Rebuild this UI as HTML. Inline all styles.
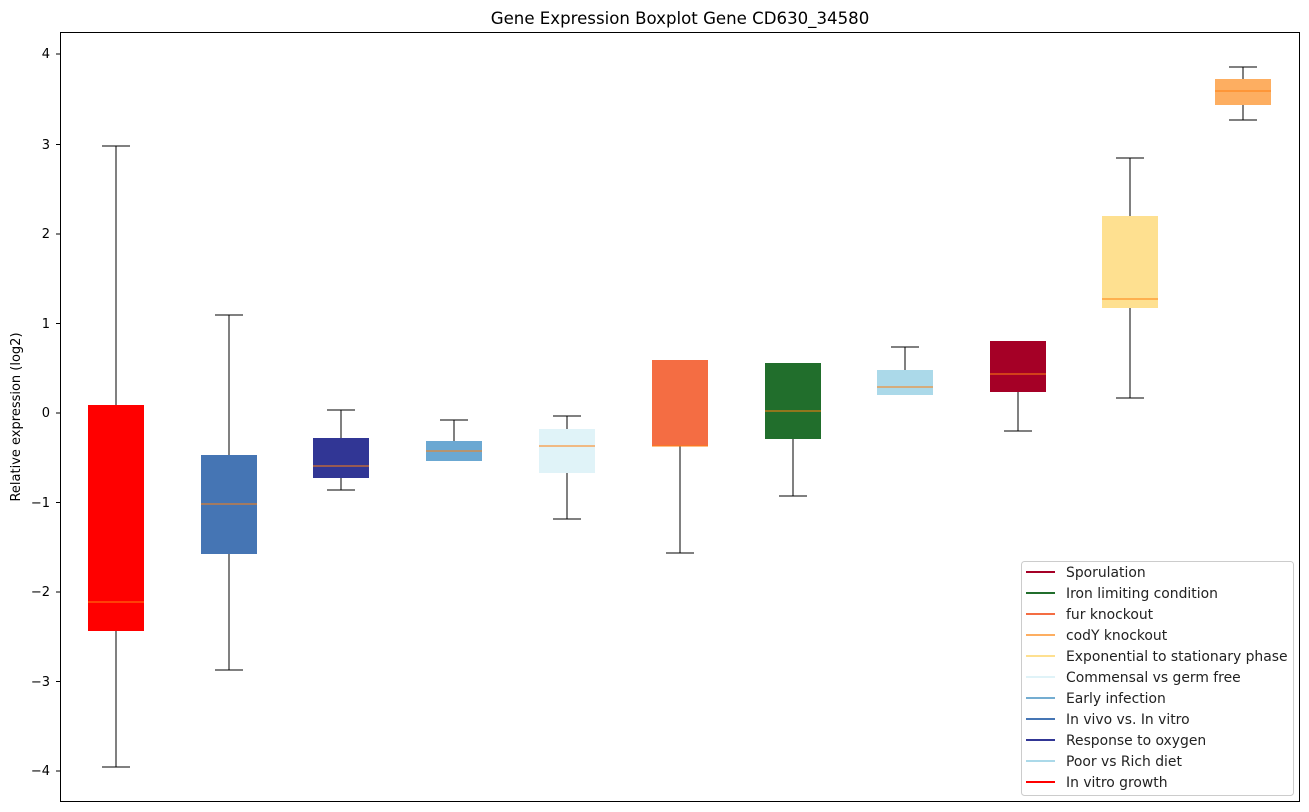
<!DOCTYPE html><html><head><style>body{margin:0;background:#fff}svg{display:block;font-family:"DejaVu Sans","Liberation Sans",sans-serif}</style></head><body>
<svg width="1309" height="812" xmlns="http://www.w3.org/2000/svg">
<rect width="1309" height="812" fill="#fff"/>
<text x="680" y="24" font-size="16.6" text-anchor="middle">Gene Expression Boxplot Gene CD630_34580</text>
<g font-size="13" text-anchor="end">
<text x="50" y="58">4</text><text x="50" y="149">3</text><text x="50" y="238">2</text><text x="50" y="328">1</text><text x="50" y="417">0</text><text x="50" y="507">−1</text><text x="50" y="596">−2</text><text x="50" y="686">−3</text><text x="50" y="775">−4</text>
</g>
<g stroke="#000"><line x1="56" y1="54" x2="60" y2="54"/><line x1="56" y1="144.5" x2="60" y2="144.5"/><line x1="56" y1="234" x2="60" y2="234"/><line x1="56" y1="323.5" x2="60" y2="323.5"/><line x1="56" y1="413" x2="60" y2="413"/><line x1="56" y1="502.5" x2="60" y2="502.5"/><line x1="56" y1="592" x2="60" y2="592"/><line x1="56" y1="681.5" x2="60" y2="681.5"/><line x1="56" y1="771" x2="60" y2="771"/></g>
<text transform="translate(20,417) rotate(-90)" font-size="13" text-anchor="middle">Relative expression (log2)</text>
<g stroke="#000" stroke-width="1">
<path d="M116 146V405M102 146H130M116 631V767M102 767H130
M229 315V455M215 315H243M229 554V670M215 670H243
M341 410V438M327 410H355M341 478V490M327 490H355
M454 420V441M440 420H468
M567 416V429M553 416H581M567 473V519M553 519H581
M680 446V553M666 553H694
M793 439V496M779 496H807
M905 347V370M891 347H919
M1018 392V431M1004 431H1032
M1130 158V216M1116 158H1144M1130 308V398M1116 398H1144
M1243 67V79M1229 67H1257M1243 105V120M1229 120H1257" fill="none"/>
</g>
<g>
<rect x="88" y="405" width="56" height="226" fill="#ff0000"/>
<rect x="201" y="455" width="56" height="99" fill="#4575b4"/>
<rect x="313" y="438" width="56" height="40" fill="#313695"/>
<rect x="426" y="441" width="56" height="20" fill="#6ba8d2"/>
<rect x="539" y="429" width="56" height="44" fill="#e0f3f8"/>
<rect x="652" y="360" width="56" height="86" fill="#f46d43"/>
<rect x="765" y="363" width="56" height="76" fill="#216e2c"/>
<rect x="877" y="370" width="56" height="25" fill="#abd9e9"/>
<rect x="990" y="341" width="56" height="51" fill="#a50026"/>
<rect x="1102" y="216" width="56" height="92" fill="#fee090"/>
<rect x="1215" y="79" width="56" height="26" fill="#fdae61"/>
</g>
<g stroke="#ff7f0e" stroke-width="1">
<path d="M88 602H144M201 504H257M313 466H369M426 451H482M539 446H595M652 446H708M765 411H821M877 387H933M990 374H1046M1102 299H1158M1215 91H1271"/>
</g>
<rect x="60.5" y="32.5" width="1239" height="769" fill="none" stroke="#000"/>
<rect x="1021.5" y="561.5" width="272" height="234" rx="3" fill="#fff" stroke="#ccc"/>
<g stroke-width="2">
<line x1="1026" y1="572" x2="1055" y2="572" stroke="#a50026"/>
<line x1="1026" y1="593" x2="1055" y2="593" stroke="#216e2c"/>
<line x1="1026" y1="614" x2="1055" y2="614" stroke="#f46d43"/>
<line x1="1026" y1="635" x2="1055" y2="635" stroke="#fdae61"/>
<line x1="1026" y1="656" x2="1055" y2="656" stroke="#fee090"/>
<line x1="1026" y1="677" x2="1055" y2="677" stroke="#e0f3f8"/>
<line x1="1026" y1="698" x2="1055" y2="698" stroke="#74add1"/>
<line x1="1026" y1="719" x2="1055" y2="719" stroke="#4575b4"/>
<line x1="1026" y1="740" x2="1055" y2="740" stroke="#313695"/>
<line x1="1026" y1="761" x2="1055" y2="761" stroke="#abd9e9"/>
<line x1="1026" y1="782" x2="1055" y2="782" stroke="#ff0000"/>
</g>
<g font-size="13.9" fill="#222">
<text x="1066" y="577">Sporulation</text>
<text x="1066" y="598">Iron limiting condition</text>
<text x="1066" y="619">fur knockout</text>
<text x="1066" y="640">codY knockout</text>
<text x="1066" y="661">Exponential to stationary phase</text>
<text x="1066" y="682">Commensal vs germ free</text>
<text x="1066" y="703">Early infection</text>
<text x="1066" y="724">In vivo vs. In vitro</text>
<text x="1066" y="745">Response to oxygen</text>
<text x="1066" y="766">Poor vs Rich diet</text>
<text x="1066" y="787">In vitro growth</text>
</g>
</svg>
</body></html>
